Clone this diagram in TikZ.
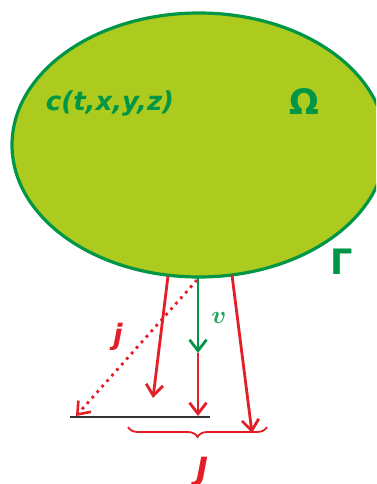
\documentclass[tikz,border=0pt]{standalone}
\usepackage{fontspec}
\setmainfont{DejaVu Sans}
\usetikzlibrary{arrows.meta,decorations.pathreplacing}
\definecolor{leaf}{RGB}{173,202,31}
\definecolor{dgreen}{RGB}{0,150,70}
\definecolor{lgreen}{RGB}{30,165,85}
\definecolor{myred}{RGB}{228,30,38}
\begin{document}
\begin{tikzpicture}[x=1pt,y=-1pt,
  tip/.style={-{Straight Barb[length=11pt,width=17pt,line width=2.8pt]}},
  flux/.style={draw=myred,line width=2.8pt,tip},
  vel/.style={draw=dgreen,line width=2.8pt,tip},
  lab/.style={inner sep=0pt,font=\bfseries\itshape\fontsize{26}{26}\selectfont},
  big/.style={inner sep=0pt,font=\bfseries\fontsize{35}{35}\selectfont,text=dgreen}]
\useasboundingbox (0,0) rectangle (376,484);
\clip (0,0) rectangle (376,484);
\draw[fill=leaf,draw=dgreen,line width=3.2pt] (199,145) ellipse [x radius=187, y radius=132];
\node[lab,text=dgreen] (c) at (110,103) {c(t,x,y,z)};
\node[big] (om) at (304,102) {Ω};
\node[big] (ga) at (342,262) {Γ};
\coordinate (L0) at (168,276); \coordinate (L1) at (153,398);
\coordinate (C0) at (198,277); \coordinate (C1) at (198,353); \coordinate (C2) at (198,416);
\coordinate (R0) at (232,275); \coordinate (R1) at (252,433);
\coordinate (D0) at (197,280); \coordinate (D1) at (76,416);
\coordinate (B0) at (70,417); \coordinate (B1) at (210,417);
\coordinate (K0) at (128,427); \coordinate (K1) at (267,427);
\draw[line width=1.3pt,black!80] (B0) -- (B1);
\draw[flux] (L0) -- (L1);
\draw[flux] (R0) -- (R1);
\draw[vel] (C0) -- (C1);
\draw[flux] (C1) -- (C2);
\draw[myred,line width=2.8pt,dash pattern=on 2.8pt off 4.6pt,-{Straight Barb[length=11pt,width=17pt,line width=2.6pt]}] (D0) -- (D1);
\draw[myred,line width=1.8pt,decorate,decoration={brace,mirror,amplitude=10pt}] (K0) -- (K1);
\node[lab,text=myred,font=\bfseries\itshape\fontsize{28}{28}\selectfont] (j) at (118,337) {j};
\node[lab,text=myred,font=\bfseries\itshape\fontsize{32}{32}\selectfont] (J) at (202,472) {J};
\node[inner sep=0pt,text=lgreen,font=\boldmath\fontsize{32}{32}\selectfont] (v) at (219,318) {$v$};
\end{tikzpicture}
\end{document}
